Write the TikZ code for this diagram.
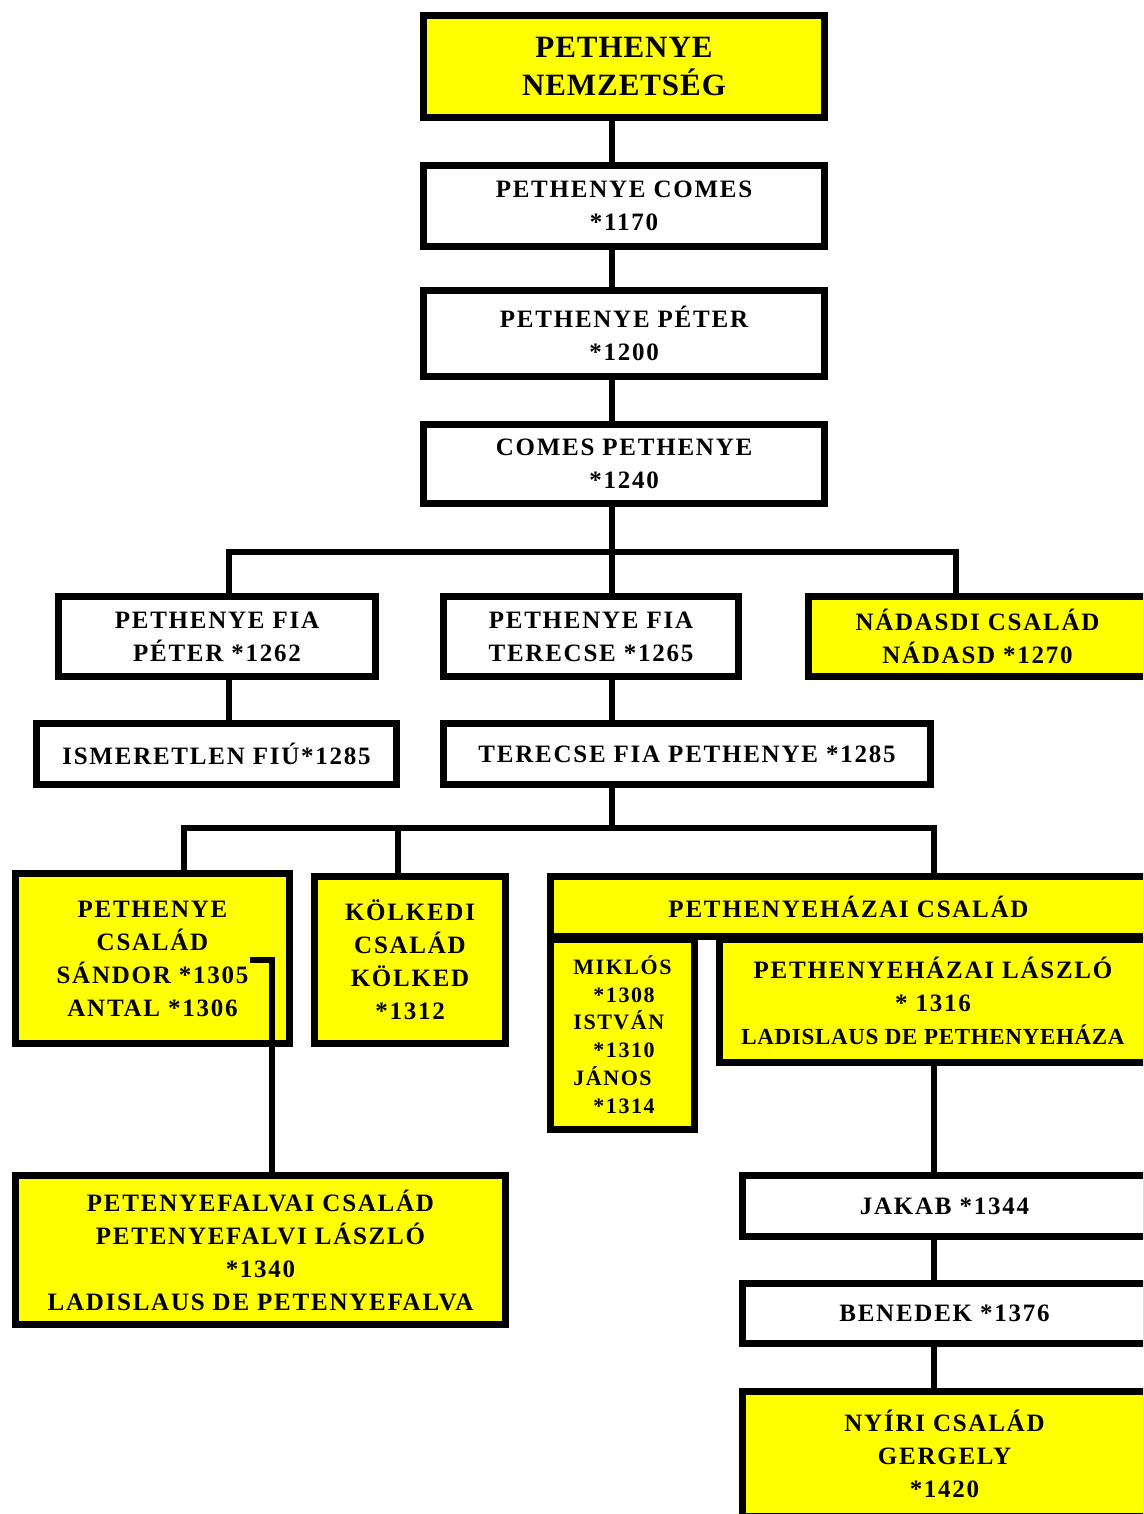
\documentclass[tikz,border=0pt]{standalone}
\usepackage{fontspec}
\setmainfont{Liberation Serif}
\newfontfamily\bx{Liberation Serif}[LetterSpace=7]
\newfontfamily\bxt{Liberation Serif}[LetterSpace=3]
\definecolor{yel}{RGB}{255,255,0}
\tikzset{
 box/.style={draw=black, line width=7pt, fill=white, inner sep=0pt, align=center, font=\bx\bfseries\fontsize{25}{33}\selectfont},
 ybox/.style={box, fill=yel},
 conn/.style={line width=6.5pt},
}
\begin{document}
\begin{tikzpicture}[x=1pt,y=-1pt]
\useasboundingbox (0,0) rectangle (1143,1514);
\fill[white] (0,0) rectangle (1143,1514);
\clip (0,0) rectangle (1143,1514);

\node[ybox, minimum width=401pt, minimum height=102pt, font=\bxt\bfseries\fontsize{31}{38}\selectfont] (nem) at (624,66.5) {PETHENYE\\NEMZETSÉG};
\node[box, minimum width=401pt, minimum height=81pt] (comes) at (624,206) {PETHENYE COMES\\*1170};
\node[box, minimum width=401pt, minimum height=86pt] (peter) at (624,333.5) {PETHENYE PÉTER\\*1200};
\node[box, minimum width=401pt, minimum height=79pt] (cp) at (624,464) {COMES PETHENYE\\*1240};
\node[box, minimum width=317pt, minimum height=80pt] (fiap) at (217,636.5) {PETHENYE FIA\\PÉTER *1262};
\node[box, minimum width=295pt, minimum height=80pt] (fiat) at (591,636.5) {PETHENYE FIA\\TERECSE *1265};
\node[ybox, minimum width=338pt, minimum height=80pt] (nad) at (977.5,636.5) {NÁDASDI CSALÁD\\NÁDASD *1270};
\node[box, minimum width=360pt, minimum height=61pt] (ism) at (216.5,754) {ISMERETLEN FIÚ*1285};
\node[box, minimum width=487pt, minimum height=61pt] (tfp) at (687,754) {TERECSE FIA PETHENYE *1285};
\node[ybox, minimum width=274pt, minimum height=170pt] (pcs) at (152.5,958.5) {PETHENYE\\CSALÁD\\SÁNDOR *1305\\ANTAL *1306};
\node[ybox, minimum width=191pt, minimum height=167pt] (kol) at (410,960) {KÖLKEDI\\CSALÁD\\KÖLKED\\*1312};
\node[ybox, minimum width=144pt, minimum height=190pt, align=left, font=\bx\bfseries\fontsize{22}{27.7}\selectfont] (mik) at (622.5,1034.5) {MIKLÓS\\\hspace*{20pt}*1308\\ISTVÁN\\\hspace*{20pt}*1310\\JÁNOS\\\hspace*{20pt}*1314};
\node[ybox, minimum width=427pt, minimum height=123pt] (las) at (933,1001) {PETHENYEHÁZAI LÁSZLÓ\\* 1316\\{\bxt\bfseries\fontsize{23}{32}\selectfont LADISLAUS DE PETHENYEHÁZA}};
\node[ybox, minimum width=596pt, minimum height=60pt] (phz) at (848.5,906.5) {PETHENYEHÁZAI CSALÁD};
\node[ybox, minimum width=490pt, minimum height=149pt] (pfv) at (260.5,1250) {PETENYEFALVAI CSALÁD\\PETENYEFALVI LÁSZLÓ\\*1340\\LADISLAUS DE PETENYEFALVA};
\node[box, minimum width=404pt, minimum height=61pt] (jak) at (944.5,1206) {JAKAB *1344};
\node[box, minimum width=404pt, minimum height=60pt] (ben) at (944.5,1313.5) {BENEDEK *1376};
\node[ybox, minimum width=404pt, minimum height=125pt] (nyi) at (944.5,1454) {NYÍRI CSALÁD\\GERGELY\\*1420};

\coordinate (xa) at (612,552);
\coordinate (xl) at (229,552);
\coordinate (xr) at (956,552);
\draw[conn] (nem.south -| xa) -- (comes.north -| xa);
\draw[conn] (comes.south -| xa) -- (peter.north -| xa);
\draw[conn] (peter.south -| xa) -- (cp.north -| xa);
\draw[conn] (cp.south -| xa) -- (fiat.north -| xa);
\draw[conn] (fiap.north -| xl) -- (xl) -- (xr) -- (nad.north -| xr);
\draw[conn] (fiap.south -| xl) -- (ism.north -| xl);
\draw[conn] (fiat.south -| xa) -- (tfp.north -| xa);

\coordinate (ya) at (612,828);
\coordinate (yl) at (184,828);
\coordinate (ym) at (398,828);
\coordinate (yr) at (934,828);
\draw[conn] (tfp.south -| ya) -- (ya);
\draw[conn] (pcs.north -| yl) -- (yl) -- (yr) -- (phz.north -| yr);
\draw[conn] (ym) -- (kol.north -| ym);
\draw[conn] (las.south -| yr) -- (jak.north -| yr);
\draw[conn] (jak.south -| yr) -- (ben.north -| yr);
\draw[conn] (ben.south -| yr) -- (nyi.north -| yr);

\coordinate (sa) at (250,960);
\coordinate (sb) at (272,960);
\draw[conn] (sa) -- (sb) -- (pfv.north -| sb);
\end{tikzpicture}
\end{document}
